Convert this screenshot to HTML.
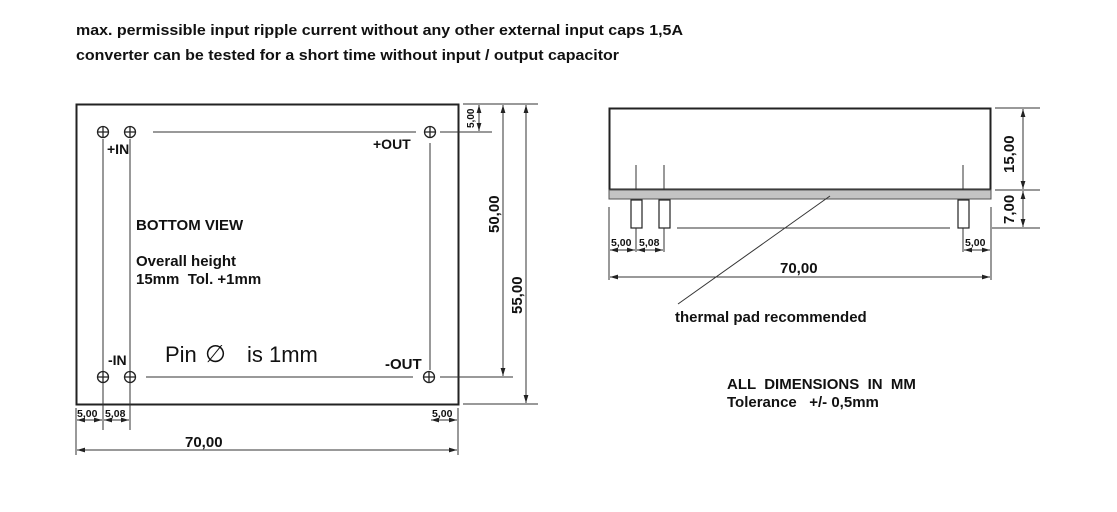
<!DOCTYPE html>
<html><head><meta charset="utf-8"><style>
html,body{margin:0;padding:0;background:#fff;}
svg{display:block;font-family:"Liberation Sans",Arial,sans-serif;}
text{white-space:pre;}
.b{font-weight:bold;fill:#111;}
</style></head><body>
<svg width="1117" height="512" viewBox="0 0 1117 512" xmlns="http://www.w3.org/2000/svg" xml:space="preserve">
<defs>
<marker id="a" viewBox="0 0 10 6" refX="10" refY="3" markerWidth="8" markerHeight="5" orient="auto-start-reverse"><path d="M0,0L10,3L0,6z" fill="#222"/></marker>
</defs>
<text x="76" y="35" class="b" font-size="15" textLength="607" lengthAdjust="spacingAndGlyphs">max. permissible input ripple current without any other external input caps 1,5A</text>
<text x="76" y="60" class="b" font-size="15" textLength="543" lengthAdjust="spacingAndGlyphs">converter can be tested for a short time without input / output capacitor</text>

<!-- left view -->
<rect x="76.5" y="104.5" width="382" height="300" fill="none" stroke="#222" stroke-width="2"/>
<g stroke="#333" stroke-width="1" fill="none">
<line x1="153" y1="132" x2="416" y2="132"/>
<line x1="440" y1="132" x2="492" y2="132"/>
<line x1="146" y1="377" x2="413" y2="377"/>
<line x1="440" y1="377" x2="513" y2="377"/>
<line x1="103" y1="139" x2="103" y2="430"/>
<line x1="130" y1="139" x2="130" y2="430"/>
<line x1="430" y1="143" x2="430" y2="370"/>
<line x1="463" y1="104" x2="538" y2="104"/>
<line x1="463" y1="404" x2="538" y2="404"/>
<line x1="76" y1="408" x2="76" y2="455"/>
<line x1="458" y1="408" x2="458" y2="455"/>
</g>
<g fill="none" stroke="#222" stroke-width="1.3">
<circle cx="103" cy="132" r="5.5"/><path d="M97,132h12M103,126v12"/>
<circle cx="130" cy="132" r="5.5"/><path d="M124,132h12M130,126v12"/>
<circle cx="430" cy="132" r="5.5"/><path d="M424,132h12M430,126v12"/>
<circle cx="103" cy="377" r="5.5"/><path d="M97,377h12M103,371v12"/>
<circle cx="130" cy="377" r="5.5"/><path d="M124,377h12M130,371v12"/>
<circle cx="429" cy="377" r="5.5"/><path d="M423,377h12M429,371v12"/>
</g>
<g stroke="#333" stroke-width="1" marker-start="url(#a)" marker-end="url(#a)">
<line x1="479" y1="105" x2="479" y2="131"/>
<line x1="503" y1="105" x2="503" y2="376"/>
<line x1="526" y1="105" x2="526" y2="403"/>
<line x1="77" y1="420" x2="102" y2="420"/>
<line x1="104" y1="420" x2="129" y2="420"/>
<line x1="431" y1="420" x2="457" y2="420"/>
<line x1="77" y1="450" x2="457" y2="450"/>
</g>
<text x="107" y="154" class="b" font-size="14">+IN</text>
<text x="373" y="149" class="b" font-size="14">+OUT</text>
<text x="136" y="230" class="b" font-size="15">BOTTOM VIEW</text>
<text x="136" y="266" class="b" font-size="15">Overall height</text>
<text x="136" y="284" class="b" font-size="15">15mm  Tol. +1mm</text>
<text x="108" y="365" class="b" font-size="14">-IN</text>
<text x="165" y="362" font-size="22" fill="#111">Pin</text>
<text x="205" y="362" font-size="24" fill="#111">∅</text>
<text x="247" y="362" font-size="22" fill="#111">is 1mm</text>
<text x="385" y="369" class="b" font-size="15">-OUT</text>
<text x="77" y="417" class="b" font-size="10.5">5,00</text>
<text x="105" y="417" class="b" font-size="10.5">5,08</text>
<text x="432" y="417" class="b" font-size="10.5">5,00</text>
<text x="185" y="447" class="b" font-size="15">70,00</text>
<text transform="translate(474,128) rotate(-90)" class="b" font-size="10">5,00</text>
<text transform="translate(499,233) rotate(-90)" class="b" font-size="15">50,00</text>
<text transform="translate(522,314) rotate(-90)" class="b" font-size="15">55,00</text>

<!-- side view -->
<rect x="609.5" y="108.5" width="381" height="81" fill="none" stroke="#222" stroke-width="2"/>
<rect x="609" y="190" width="382" height="9" fill="#c4c4c4" stroke="#555" stroke-width="1"/>
<g fill="#fff" stroke="#222" stroke-width="1.2">
<rect x="631" y="200" width="11" height="28"/>
<rect x="659" y="200" width="11" height="28"/>
<rect x="958" y="200" width="11" height="28"/>
</g>
<g stroke="#333" stroke-width="1">
<line x1="636" y1="165" x2="636" y2="190"/><line x1="636" y1="228" x2="636" y2="252"/>
<line x1="664" y1="165" x2="664" y2="190"/><line x1="664" y1="228" x2="664" y2="252"/>
<line x1="963" y1="165" x2="963" y2="190"/><line x1="963" y1="228" x2="963" y2="252"/>
<line x1="609" y1="207" x2="609" y2="280"/>
<line x1="991" y1="207" x2="991" y2="280"/>
<line x1="677" y1="228" x2="950" y2="228"/>
<line x1="992" y1="228" x2="1040" y2="228"/>
<line x1="995" y1="108" x2="1040" y2="108"/>
<line x1="995" y1="190" x2="1040" y2="190"/>
<line x1="830" y1="196" x2="678" y2="304"/>
</g>
<g stroke="#333" stroke-width="1" marker-start="url(#a)" marker-end="url(#a)">
<line x1="1023" y1="109" x2="1023" y2="189"/>
<line x1="1023" y1="191" x2="1023" y2="227"/>
<line x1="610" y1="250" x2="635" y2="250"/>
<line x1="637" y1="250" x2="663" y2="250"/>
<line x1="964" y1="250" x2="990" y2="250"/>
<line x1="610" y1="277" x2="990" y2="277"/>
</g>
<text x="611" y="246" class="b" font-size="10.5">5,00</text>
<text x="639" y="246" class="b" font-size="10.5">5,08</text>
<text x="965" y="246" class="b" font-size="10.5">5,00</text>
<text x="780" y="273" class="b" font-size="15">70,00</text>
<text transform="translate(1014,173) rotate(-90)" class="b" font-size="15">15,00</text>
<text transform="translate(1014,224) rotate(-90)" class="b" font-size="15">7,00</text>
<text x="675" y="322" class="b" font-size="15">thermal pad recommended</text>
<text x="727" y="389" class="b" font-size="15">ALL  DIMENSIONS  IN  MM</text>
<text x="727" y="407" class="b" font-size="15">Tolerance   +/- 0,5mm</text>
</svg>
</body></html>
